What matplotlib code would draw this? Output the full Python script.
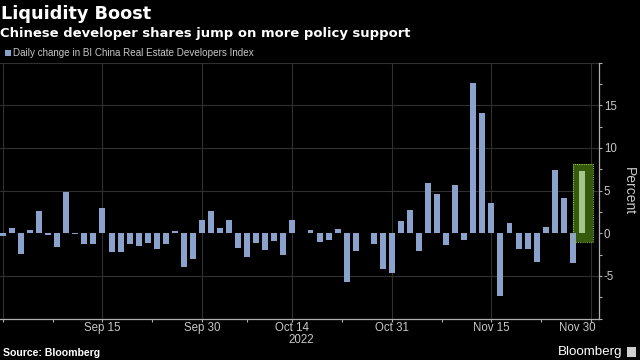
import numpy as np
import pandas as pd
import matplotlib
matplotlib.use("Agg")
import matplotlib.pyplot as plt
import matplotlib.transforms as mtransforms
from matplotlib.patches import Rectangle
from matplotlib.ticker import MultipleLocator, FixedLocator

plt.rcParams['font.family'] = ['Liberation Sans', 'DejaVu Sans']

# daily change in BI China Real Estate Developers Index, percent
dates = pd.bdate_range('2022-08-31', '2022-11-29')
change = [
    -0.3, 0.6, -2.4, 0.35, 2.6, -0.15, -1.6, 4.8, -0.05, -1.2,
    -1.2, 3.0, -2.2, -2.2, -1.3, -1.5, -1.1, -1.8, -1.2, 0.3,
    -4.0, -3.0, 1.6, 2.6,
    0.65, 1.6, -1.7, -2.8, -1.1, -2.0, -0.9, -2.5, 1.6, 0.05,
    0.4, -1.0, -0.8, 0.5, -5.7, -2.1, 0.05, -1.25, -4.2, -4.6,
    1.4, 2.7, -2.1, 5.85, 4.6, -1.4, 5.65, -0.8, 17.6, 14.1,
    3.5, -7.3, 1.2, -1.9, -1.9, -3.4, 0.7, 7.4, 4.1, -3.5, 7.3,
]
tick_dates = ['2022-08-31', '2022-09-15', '2022-09-30', '2022-10-14',
              '2022-10-31', '2022-11-15', '2022-11-30']
tick_labels = ['', 'Sep 15', 'Sep 30', 'Oct 14', 'Oct 31', 'Nov 15', 'Nov 30']
hgrid = [-5, 5, 10, 15, 20]

bar_color = '#8ba3cc'
grid_color = '#303030'
axis_color = '#b0b0b0'
text_color = '#c8c8c8'

all_days = pd.bdate_range('2022-08-31', '2022-11-30')
tick_pos = [all_days.get_loc(pd.Timestamp(d)) for d in tick_dates]
xpos = np.arange(len(change))

fig = plt.figure(figsize=(6.4, 3.6), dpi=100, facecolor='black')
ax = fig.add_axes([0.0, 0.115, 0.936, 0.711], facecolor='black')

for y in hgrid:
    ax.axhline(y, color=grid_color, lw=0.8, zorder=0)
for p in tick_pos:
    ax.axvline(p, color=grid_color, lw=0.8, zorder=0)

# highlight box around the last day
last = xpos[-1]
ax.add_patch(Rectangle((last - 1.0, -1.0), 2.2, 9.1, facecolor='#365a0c',
                       edgecolor='none', zorder=1))
colors = [bar_color] * (len(change) - 1) + ['#a6c78c']
ax.bar(xpos, change, width=0.66, color=colors, zorder=2)
ax.add_patch(Rectangle((last - 1.0, -1.0), 2.2, 9.1, facecolor='none',
                       edgecolor='#8fbf45', lw=0.8, ls=(0, (1, 1)), zorder=3))

ax.set_xlim(-0.33, 65.9)
ax.set_ylim(-10, 20)

for s in ['left', 'top']:
    ax.spines[s].set_visible(False)
for s in ['bottom', 'right']:
    ax.spines[s].set_color(axis_color)
    ax.spines[s].set_linewidth(0.9)

ax.yaxis.tick_right()
ax.yaxis.set_label_position('right')
ax.yaxis.set_major_locator(FixedLocator([-5, 0, 5, 10, 15, 20]))
ax.set_yticklabels(['-5', '0', '5', '10', '15', ''])
ax.yaxis.set_minor_locator(MultipleLocator(2.5))
ax.tick_params(axis='y', which='both', colors=axis_color, labelcolor=text_color,
               labelsize=8.3, length=2.5, width=0.8, pad=1)
ax.set_ylabel('Percent', color=text_color, fontsize=10, rotation=270, labelpad=14)

ax.set_xticks(tick_pos)
ax.set_xticklabels(tick_labels)
mids = [(a + b) / 2 for a, b in zip(tick_pos[:-1], tick_pos[1:])]
ax.set_xticks(mids, minor=True)
ax.tick_params(axis='x', which='both', colors=axis_color, labelcolor=text_color,
               labelsize=8.3, length=2, width=0.8, pad=0.5)
lbl = ax.get_xticklabels()[-1]
lbl.set_ha('right')
lbl.set_transform(lbl.get_transform() + mtransforms.ScaledTranslation(5 / 100, 0, fig.dpi_scale_trans))

fig.text(301 / 640, 1 - 340 / 360, '2022', color=text_color, fontsize=8.3,
         ha='center', va='center')

fig.text(1 / 640, 1 - 19 / 360, 'Liquidity Boost', color='white', fontsize=12.7,
         fontweight='bold', va='baseline', family='DejaVu Sans')
fig.text(0 / 640, 1 - 36.5 / 360, 'Chinese developer shares jump on more policy support',
         color='white', fontsize=9.45, fontweight='bold', va='baseline', family='DejaVu Sans')
fig.patches.append(Rectangle((5 / 640, 1 - 56 / 360), 6 / 640, 6 / 360,
                             transform=fig.transFigure, facecolor=bar_color,
                             edgecolor='none'))
fig.text(13 / 640, 1 - 56.5 / 360, 'Daily change in BI China Real Estate Developers Index',
         color=text_color, fontsize=7.1, va='baseline')

fig.text(3 / 640, 1 - 353 / 360, 'Source: Bloomberg', color='white', fontsize=7.6,
         fontweight='bold', va='center')
fig.text(622 / 640, 1 - 352 / 360, 'Bloomberg', color='white', fontsize=9.6,
         ha='right', va='center')
fig.patches.append(Rectangle((627 / 640, 1 - 357 / 360), 9 / 640, 10 / 360,
                             transform=fig.transFigure, facecolor='#d0d0d0',
                             edgecolor='none'))

fig.savefig('out.png', dpi=100, facecolor='black')
